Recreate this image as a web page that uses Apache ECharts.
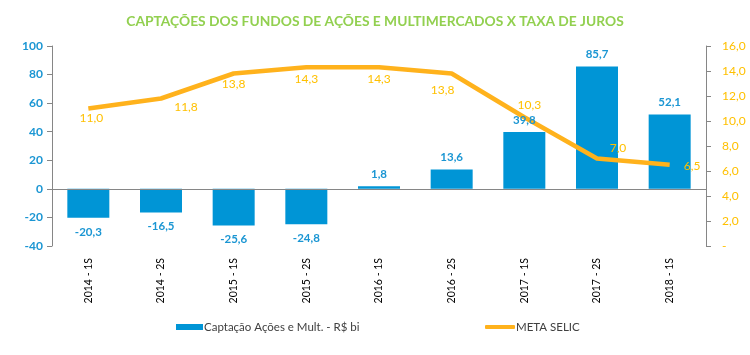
<!DOCTYPE html>
<html><head><meta charset="utf-8">
<script src="https://cdn.jsdelivr.net/npm/echarts@6/dist/echarts.min.js"></script>
<style>html,body{margin:0;padding:0;background:#fff}#c{width:750px;height:355px}</style>
</head><body><div id="c"></div>
<script>
const categories = ['2014 - 1S','2014 - 2S','2015 - 1S','2015 - 2S','2016 - 1S','2016 - 2S','2017 - 1S','2017 - 2S','2018 - 1S'];
const captacao = [-20.3, -16.5, -25.6, -24.8, 1.8, 13.6, 39.8, 85.7, 52.1];
const selic = [11.0, 11.8, 13.8, 14.3, 14.3, 13.8, 10.3, 7.0, 6.5];
const selicLabelPos = ['bottom','bottom','bottom','bottom','bottom','bottom','top','top','right'];
const selicLabelOffset = [[3,-1],[25,-2],[0,0],[0,1],[0,1],[-9,6],[5,-1],[21,1],[9,1]];
const leftTicks = {min:-40, max:100, interval:20};
const rightTicks = {min:0, max:16, interval:2};

const fmt = v => v.toFixed(1).replace('.', ',');
const FONT = 'Lato';
const chart = echarts.init(document.getElementById('c'));
chart.setOption({
  animation:false,
  title:{text:'CAPTAÇÕES DOS FUNDOS DE AÇÕES E MULTIMERCADOS X TAXA DE JUROS', left:'center', top:10,
    textStyle:{color:'#92D050', fontSize:13.8, fontWeight:'bold', fontFamily:FONT}},
  grid:{left:52, right:44, top:46, bottom:109},
  legend:[
    {left:171, top:316, itemWidth:27, itemHeight:6, icon:'rect', itemGap:0,
     textStyle:{fontFamily:FONT, fontSize:11.5, color:'#404040', padding:[0,0,0,-4]},
     data:['Captação Ações e Mult. - R$ bi']},
    {left:480, top:316, itemWidth:30, itemHeight:4, icon:'roundRect',
     textStyle:{fontFamily:FONT, fontSize:11.5, color:'#404040', padding:[0,0,0,-4]},
     data:['META SELIC']}
  ],
  xAxis:{type:'category', data:categories, axisLine:{show:false}, axisTick:{show:false},
    axisLabel:{rotate:90, fontFamily:FONT, fontSize:10.5, color:'#000000', margin:12, padding:[8,0,0,0]}},
  yAxis:[
    {type:'value', min:leftTicks.min, max:leftTicks.max, interval:leftTicks.interval, position:'left',
     splitLine:{show:false}, axisLine:{show:true, lineStyle:{color:'#868686'}},
     axisTick:{show:true, length:5, lineStyle:{color:'#868686'}},
     axisLabel:{color:'#1B96D3', fontWeight:'bold', fontFamily:FONT, fontSize:12, margin:9}},
    {type:'value', min:rightTicks.min, max:rightTicks.max, interval:rightTicks.interval, position:'right',
     splitLine:{show:false}, axisLine:{show:true, lineStyle:{color:'#868686'}},
     axisTick:{show:true, length:5, lineStyle:{color:'#868686'}},
     axisLabel:{color:'#FFC000', fontFamily:FONT, fontSize:12, margin:16,
       formatter:v => v===0 ? '-' : fmt(v)}}
  ],
  series:[
    {name:'Captação Ações e Mult. - R$ bi', type:'bar', yAxisIndex:0, barWidth:42,
     itemStyle:{color:'#0095D6'}, data:captacao, z:2,
     markLine:{silent:true, symbol:'none', label:{show:false}, lineStyle:{color:'#868686', type:'solid', width:1},
       data:[{yAxis:0}]}},
    {name:'META SELIC', type:'line', yAxisIndex:1, symbol:'circle', symbolSize:0.1, showSymbol:true,
     lineStyle:{color:'#FFB21C', width:4.5, join:'round'}, itemStyle:{color:'#FFB21C'},
     data:selic.map((v,i)=>({value:v, label:{position:selicLabelPos[i], offset:selicLabelOffset[i]}})),
     label:{show:true, distance:5, color:'#FFC000', fontFamily:FONT, fontSize:12,
       formatter:p=>fmt(p.value)}, z:3},
    {name:'labels', type:'bar', yAxisIndex:0, barWidth:42, barGap:'-100%', silent:true,
     itemStyle:{color:'rgba(0,0,0,0)'}, z:4,
     data:captacao.map(v=>({value:v, label:{position: v<0?'bottom':'top', distance: v<0?8:6}})),
     label:{show:true, color:'#1B96D3', fontFamily:FONT, fontSize:11.5, fontWeight:'bold',
       formatter:p=>fmt(p.value)}}
  ]
});
</script></body></html>
